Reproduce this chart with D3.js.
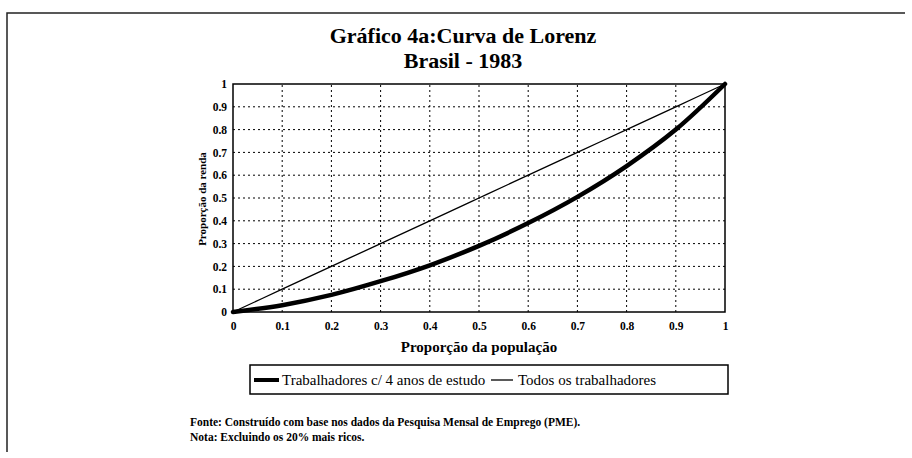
<!DOCTYPE html>
<html>
<head>
<meta charset="utf-8">
<script src="https://cdn.jsdelivr.net/npm/d3@7"></script>
<style>
  body { margin: 0; background: #fff; }
  text { font-family: "Liberation Serif", "Times New Roman", serif; fill: #000; }
</style>
</head>
<body>
<div id="chart"></div>
<script>
// population share (x) and income share (y)
var popShare = [0, 0.1, 0.2, 0.3, 0.4, 0.5, 0.6, 0.7, 0.8, 0.9, 1];
var rendaEstudo = [0, 0.03, 0.075, 0.135, 0.205, 0.29, 0.39, 0.505, 0.64, 0.80, 1];
var rendaTodos = [0, 0.1, 0.2, 0.3, 0.4, 0.5, 0.6, 0.7, 0.8, 0.9, 1];
var tickVals = [0, 0.1, 0.2, 0.3, 0.4, 0.5, 0.6, 0.7, 0.8, 0.9, 1];
var serieNames = ["Trabalhadores c/ 4 anos de estudo", "Todos os trabalhadores"];

(function(){
  var width = 912,
    height = 458;

  var svg = d3.select("#chart")
    .append("svg")
    .attr("width", width)
    .attr("height", height);

  // page frame (top + left edges of the scanned sheet)
  svg.append("path")
    .attr("d", "M7,452 L7,13 L905,13")
    .attr("fill", "none")
    .attr("stroke", "#222")
    .attr("stroke-width", 1.5);

  var x = d3.scaleLinear().domain([0, 1]).range([233, 725]);
  var y = d3.scaleLinear().domain([0, 1]).range([312, 84]);

  // titles
  svg.append("text")
    .attr("x", 463).attr("y", 43)
    .attr("text-anchor", "middle")
    .style("font-size", "22px").style("font-weight", "bold")
    .text("Gráfico 4a:Curva de Lorenz");
  svg.append("text")
    .attr("x", 463).attr("y", 68)
    .attr("text-anchor", "middle")
    .style("font-size", "22px").style("font-weight", "bold")
    .text("Brasil - 1983");

  // dotted grid
  var grid = svg.append("g");
  grid.selectAll(".vg")
    .data(tickVals.slice(1, -1))
    .enter().append("line")
    .attr("x1", function(d){ return x(d); })
    .attr("x2", function(d){ return x(d); })
    .attr("y1", y(0)).attr("y2", y(1))
    .attr("stroke", "#000").attr("stroke-width", 1)
    .attr("stroke-dasharray", "2,3");
  grid.selectAll(".hg")
    .data(tickVals.slice(1, -1))
    .enter().append("line")
    .attr("y1", function(d){ return y(d); })
    .attr("y2", function(d){ return y(d); })
    .attr("x1", x(0)).attr("x2", x(1))
    .attr("stroke", "#000").attr("stroke-width", 1)
    .attr("stroke-dasharray", "2,3");

  // plot border
  svg.append("rect")
    .attr("x", x(0)).attr("y", y(1))
    .attr("width", x(1) - x(0)).attr("height", y(0) - y(1))
    .attr("fill", "none").attr("stroke", "#000").attr("stroke-width", 1.5);

  // axes (labels only)
  var fmt = function(d){ return d3.format("")(d); };
  var xAxis = svg.append("g")
    .attr("transform", "translate(0," + y(0) + ")")
    .call(d3.axisBottom(x).tickValues(tickVals).tickFormat(fmt).tickSize(0).tickPadding(10));
  var yAxis = svg.append("g")
    .attr("transform", "translate(" + x(0) + ",0)")
    .call(d3.axisLeft(y).tickValues(tickVals).tickFormat(fmt).tickSize(0).tickPadding(6));
  [xAxis, yAxis].forEach(function(a){
    a.select(".domain").remove();
    a.selectAll("text")
      .style("font-family", "'Liberation Serif', serif")
      .style("font-size", "11.5px")
      .style("font-weight", "bold");
  });

  svg.append("text")
    .attr("x", 479).attr("y", 352)
    .attr("text-anchor", "middle")
    .style("font-size", "15px").style("font-weight", "bold")
    .text("Proporção da população");
  svg.append("text")
    .attr("transform", "translate(206,199) rotate(-90)")
    .attr("text-anchor", "middle")
    .style("font-size", "11px").style("font-weight", "bold")
    .text("Proporção da renda");

  // lines
  var line = d3.line()
    .x(function(d, i){ return x(popShare[i]); })
    .y(function(d){ return y(d); })
    .curve(d3.curveCatmullRom.alpha(0.5));

  svg.append("path")
    .datum(rendaTodos)
    .attr("d", line)
    .attr("fill", "none").attr("stroke", "#000").attr("stroke-width", 1.3);
  svg.append("path")
    .datum(rendaEstudo)
    .attr("d", line)
    .attr("fill", "none").attr("stroke", "#000").attr("stroke-width", 4.5)
    .attr("stroke-linecap", "round");

  // legend
  var leg = svg.append("g");
  leg.append("rect")
    .attr("x", 250).attr("y", 365).attr("width", 478).attr("height", 29)
    .attr("fill", "#fff").attr("stroke", "#000").attr("stroke-width", 1.5);
  leg.append("line")
    .attr("x1", 254).attr("x2", 279).attr("y1", 380).attr("y2", 380)
    .attr("stroke", "#000").attr("stroke-width", 4);
  leg.append("text")
    .attr("x", 282).attr("y", 385)
    .style("font-size", "15px")
    .text(serieNames[0]);
  leg.append("line")
    .attr("x1", 491).attr("x2", 513).attr("y1", 380).attr("y2", 380)
    .attr("stroke", "#000").attr("stroke-width", 1.3);
  leg.append("text")
    .attr("x", 518).attr("y", 385)
    .style("font-size", "15px")
    .text(serieNames[1]);

  // footnotes
  svg.append("text")
    .attr("x", 190).attr("y", 426)
    .style("font-size", "11.5px").style("font-weight", "bold")
    .text("Fonte: Construído com base nos dados da Pesquisa Mensal de Emprego (PME).");
  svg.append("text")
    .attr("x", 190).attr("y", 441)
    .style("font-size", "11.5px").style("font-weight", "bold")
    .text("Nota:  Excluindo os 20% mais ricos.");
})();
</script>
</body>
</html>
